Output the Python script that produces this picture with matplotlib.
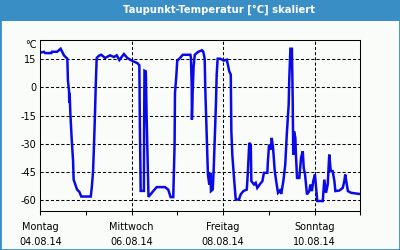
import matplotlib
matplotlib.use("Agg")
import matplotlib.pyplot as plt
from matplotlib.patches import Rectangle

# Stunden seit 04.08.14 00:00 und Taupunkt in °C
hours = [0, 1.9, 2.5, 5.8, 6.1, 8.8, 10.7, 12.4, 14.2, 14.5, 15.1, 15.2, 15.4, 15.8,
         16.5, 17.2, 17.5, 18.4, 19.3, 20.5, 21.5, 26.5, 27.1, 27.7, 28.2, 28.7, 29.1,
         29.6, 30.8, 32.0, 34.0, 36.6, 38.7, 40.1, 41.5, 43.9, 45.7, 47.5, 48.8, 50.9,
         52.0, 52.3, 52.7, 54.4, 54.5, 54.7, 55.4, 55.8, 56.8, 59.3, 61.1, 65.5, 67.2,
         68.4, 69.8, 70.5, 70.7, 71.4, 71.9, 73.0, 74.8, 78.8, 79.1, 79.5, 79.6, 80.0,
         80.5, 81.1, 82.8, 84.9, 85.6, 86.3, 86.6, 87.4, 88.0, 88.7, 89.3, 89.6, 90.5,
         91.0, 91.6, 92.2, 92.6, 93.1, 94.5, 96.3, 97.9, 98.5, 99.2, 100.0, 100.3, 100.8,
         101.7, 102.6, 104.3, 105.2, 106.6, 108.4, 109.0, 109.7, 110.5, 110.8, 112.2,
         113.1, 113.9, 115.2, 116.6, 117.4, 119.2, 119.5, 120.1, 121.0, 121.5, 122.2,
         123.1, 124.1, 124.8, 125.8, 126.5, 127.6, 128.6, 129.4, 130.4, 130.7, 131.3,
         132.1, 132.5, 132.8, 133.2, 133.9, 134.2, 134.8, 136.0, 136.9, 137.8, 138.3,
         139.0, 139.5, 140.0, 141.2, 141.8, 142.6, 143.3, 144.2, 144.8, 145.4, 148.3,
         149.1, 150.0, 150.9, 151.7, 152.5, 153.5, 154.4, 154.9, 157.0, 158.8, 159.6,
         160.1, 160.9, 161.5, 163.1, 167.2]
dew = [18.5, 19.0, 18.3, 18.3, 19.0, 19.0, 20.6, 17.1, 15.3, 3.8, -2.0, -8.2, -2.9, -14.4,
       -27.7, -38.9, -49.0, -51.6, -54.3, -55.5, -58.0, -58.0, -52.5, -44.5, -30.4, -14.4, 0.7,
       15.7, 16.9, 17.4, 15.7, 17.1, 16.2, 17.1, 14.6, 17.8, 15.7, 14.6, 13.9, 13.0,
       11.8, -22.0, -55.0, -55.0, -22.6, 8.9, 8.5, -14.6, -58.2, -55.1, -53.0, -53.0, -54.4,
       -58.3, -58.3, -30.4, -3.1, 6.0, 14.3, 15.3, 17.4, 17.4, 15.7, -0.2, -17.1, -2.0,
       11.3, 17.4, 18.9, 19.8, 18.9, 15.3, -0.2, -26.8, -46.3, -51.6, -45.4, -55.1, -54.3,
       -44.5, -26.8, -9.1, 6.8, 15.3, 15.3, 14.3, 14.8, 12.1, 8.6, 6.8, -23.3, -35.7,
       -48.1, -59.6, -59.6, -56.9, -55.1, -54.3, -44.5, -29.5, -30.4, -49.8, -51.6,
       -50.7, -53.4, -51.6, -49.8, -45.4, -45.4, -39.2, -30.4, -33.0, -26.8, -32.1,
       -44.5, -51.6, -56.0, -54.8, -56.6, -49.8, -41.0, -25.1, -9.1, 4.2, 20.6,
       20.6, -5.6, -35.7, -23.3, -26.8, -35.7, -48.1, -48.1, -37.4, -33.9, -42.8,
       -46.3, -51.6, -56.9, -55.1, -51.6, -55.1, -49.8, -46.3, -53.4, -60.4, -60.4,
       -49.0, -56.0, -51.6, -35.7, -44.5, -44.5, -49.8, -55.1, -54.8, -53.4, -49.8,
       -46.3, -51.6, -55.1, -56.0, -56.6]

yticks = [15, 0, -15, -30, -45, -60]
label_ticks = [0, 48, 96, 144]
odd_day_ticks = [24, 72, 120, 168]
day_labels = ["Montag\n04.08.14", "Mittwoch\n06.08.14", "Freitag\n08.08.14", "Sonntag\n10.08.14"]
title = "Taupunkt-Temperatur [°C] skaliert"

bg = "#fafcfa"
frame_blue = "#3a8ec6"

fig = plt.figure(figsize=(4, 2.5), dpi=100, facecolor=bg)
ax = fig.add_axes([40.3 / 400, 39 / 250, 320 / 400, 170.7 / 250], facecolor=bg)

ax.plot(hours, dew, color="#0a0ae6", lw=1.8, solid_joinstyle="miter")

ax.set_xlim(0, 168)
ax.set_ylim(-65.7, 25.1)

# gestrichelte Hilfslinien
for v in yticks:
    ax.axhline(v, color="black", lw=0.75, ls=(0, (3, 2)), zorder=0)
for h in label_ticks[1:]:
    ax.axvline(h, color="black", lw=0.75, ls=(0, (3, 2)), zorder=0)

ax.set_yticks(yticks)
ax.set_yticklabels([str(v) for v in yticks], fontsize=7)
ax.tick_params(axis="y", length=0, pad=3)

ax.set_xticks(label_ticks)
ax.set_xticklabels(day_labels, fontsize=7, linespacing=1.55, va="top")
ax.set_xticks(odd_day_ticks, minor=True)
ax.tick_params(axis="x", which="both", length=3, width=0.75, direction="out", pad=5)

for s in ax.spines.values():
    s.set_linewidth(0.75)
    s.set_color("black")

fig.text(37 / 400, 1 - 45 / 250, "°C", ha="right", va="center", fontsize=7)

# Titelleiste und Rahmen
fig.patches.append(Rectangle((0, 1 - 20.5 / 250), 1, 20.5 / 250, transform=fig.transFigure,
                             facecolor=frame_blue, edgecolor="none", zorder=0))
fig.patches.append(Rectangle((0, 0), 1, 1, transform=fig.transFigure,
                             facecolor="none", edgecolor=frame_blue, lw=2, zorder=1))
fig.text(219 / 400, 1 - 10 / 250, title, ha="center", va="center", color="white",
         fontsize=7.2, fontweight="bold")

fig.savefig("out.png", dpi=100, facecolor=bg)
